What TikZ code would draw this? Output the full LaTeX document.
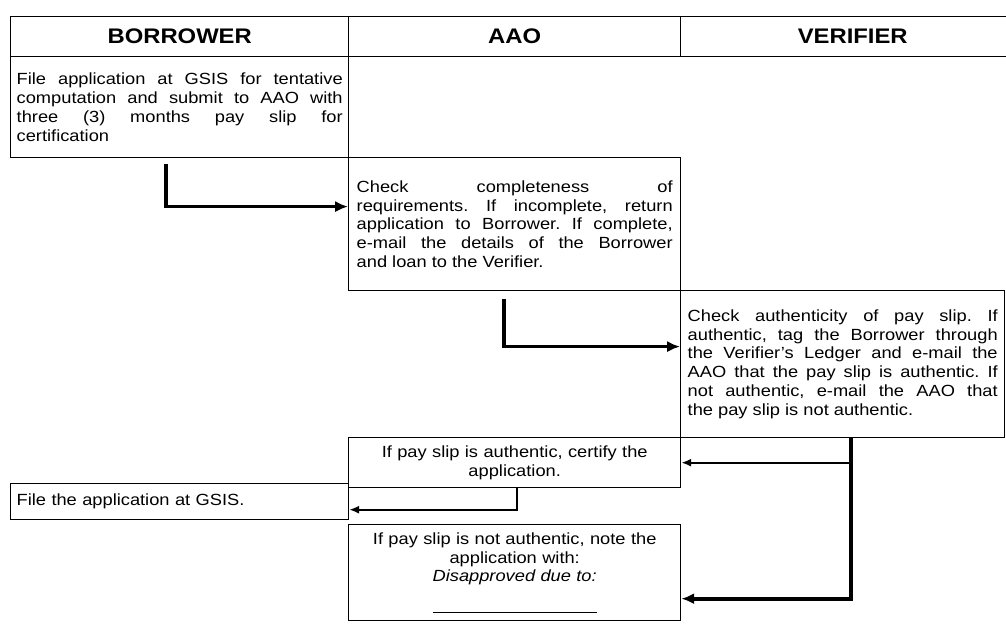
\documentclass[tikz,border=0pt]{standalone}
\usepackage{fontspec}
\setmainfont[FakeStretch=1.13]{Liberation Sans}
\usepackage{tikz}
\usetikzlibrary{arrows.meta}
\hyphenpenalty=10000
\tolerance=9999
\hbadness=10000
\frenchspacing
\tikzstyle{lane} = [rectangle, draw=black, line width=1pt, anchor=north west, inner sep=0pt]
\tikzstyle{header} = [lane, minimum height=1cm, font=\fontsize{15}{18}\selectfont\bfseries]
\tikzstyle{task} = [lane, inner xsep=0.2cm, font=\fontsize{11.5}{13.4}\selectfont]
\tikzstyle{arrow} = [line width=2.6pt, -{Latex[length=3.2mm,width=2.8mm]}]
\tikzstyle{thinarrow} = [line width=1.4pt, -{Latex[length=2.4mm,width=2mm]}]

\begin{document}
\begin{tikzpicture}
	\useasboundingbox (0,0) rectangle (25.15,-15.6);
	\node (hborrow) [header, minimum width=8.45cm] at (0.25,-0.4) {BORROWER};
	\node (haao) [header, minimum width=8.3cm] at (8.7,-0.4) {AAO};
	\node (hverif) [header, minimum width=8.6cm] at (17,-0.4) {VERIFIER};

	\node (borrow1) [task, inner xsep=0.15cm, text width=8.15cm, minimum height=2.525cm, align=justify] at (0.25,-1.4) {File application at GSIS for tentative\linebreak computation and submit to AAO with\linebreak three (3) months pay slip for\linebreak certification};
	\node (aao1) [task, text width=7.9cm, minimum height=3.325cm, align=justify] at (8.7,-3.925) {Check completeness of\linebreak requirements. If incomplete, return\linebreak application to Borrower. If complete,\linebreak e-mail the details of the Borrower\linebreak and loan to the Verifier.};
	\node (verif) [task, inner xsep=0.175cm, text width=7.75cm, minimum height=3.675cm, align=justify] at (17,-7.25) {Check authenticity of pay slip. If\linebreak authentic, tag the Borrower through\linebreak the Verifier's Ledger and e-mail the\linebreak AAO that the pay slip is authentic. If\linebreak not authentic, e-mail the AAO that\linebreak the pay slip is not authentic.};
	\node (aao2) [task, text width=7.9cm, minimum height=1.25cm, align=center] at (8.7,-10.925) {If pay slip is authentic, certify the\\application.};
	\node (borrow2) [task, inner xsep=0.15cm, text width=8.15cm, minimum height=0.9cm, align=left] at (0.25,-12.075) {File the application at GSIS.};
	\node (aao3) [task, text width=7.9cm, minimum height=2.4cm, align=center] at (8.7,-13.1) {If pay slip is not authentic, note the\\application with:\\\textit{Disapproved due to:}\\[0.3cm]\rule{4.1cm}{0.7pt}};

	\draw [arrow] ([xshift=-0.35cm,yshift=-0.15cm]borrow1.south) |- ([yshift=0.44cm]aao1.west);
	\draw [arrow] ([xshift=-0.275cm,yshift=-0.2cm]aao1.south) |- ([yshift=0.44cm]verif.west);
	\path ([xshift=0.2cm]verif.south) coordinate (vdrop);
	\draw [arrow, line width=2.8pt] (vdrop) |- ([yshift=-0.65cm]aao3.east);
	\draw [thinarrow] (vdrop |- aao2.east) -- (aao2.east);
	\draw [thinarrow, line width=1.2pt] ([xshift=0.05cm]aao2.south) |- ([yshift=-0.2cm]borrow2.east);
\end{tikzpicture}
\end{document}
